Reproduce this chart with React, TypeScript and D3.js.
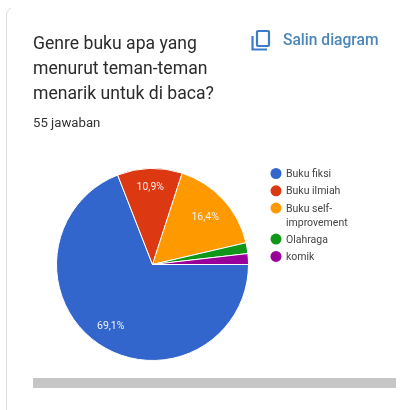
import React from "react";
import * as d3 from "d3";

const categories = ["Buku fiksi", "Buku ilmiah", "Buku self-improvement", "Olahraga", "komik"];
const counts = [38, 6, 9, 1, 1];
const percentLabels = ["69,1%", "10,9%", "16,4%", "", ""];
const colors = ["#3366cc", "#dc3912", "#ff9900", "#109618", "#990099"];
const legendLines = [["Buku fiksi"], ["Buku ilmiah"], ["Buku self-", "improvement"], ["Olahraga"], ["komik"]];
const titleLines = ["Genre buku apa yang", "menurut teman-teman", "menarik untuk di baca?"];

const font = "Roboto, 'Noto Sans', sans-serif";
const labelRadii = [74, 78, 71.5, 0, 0];

export default function App() {
  const cx = 152.5, cy = 264.5, r = 96;
  const pie = d3.pie<number>().sort(null).startAngle(Math.PI / 2).endAngle(Math.PI / 2 + 2 * Math.PI);
  const arc = d3.arc<d3.PieArcDatum<number>>().innerRadius(0).outerRadius(r);
  const arcs = pie(counts);
  let ly = 173.5;
  return (
    <svg width={400} height={410} viewBox="0 0 400 410" style={{ position: "absolute", left: 0, top: 0, background: "#fff", filter: "blur(0.35px)" }} fontFamily={font}>
      <path d="M6.5 410V15Q6.5 10 11 8" stroke="#dcdcdc" strokeWidth={1} fill="none" />
      {titleLines.map((t, i) => (
        <text key={t} x={33} y={49 + i * 25} fontSize={17.6} fill="#2b2b2b">{t}</text>
      ))}
      <text x={33} y={127} fontSize={13.2} fill="#333">55 jawaban</text>
      <g fill="none" stroke="#3d7cc9" strokeWidth={2.2}>
        <rect x={257} y={31} width={12} height={15} rx={1} />
        <path d="M252.5 36V49.5H267" />
      </g>
      <text x={283} y={44.5} fontSize={15.6} fontWeight={500} fill="#4a86b8">Salin diagram</text>
      {arcs.map((a, i) => (
        <path key={categories[i]} d={arc(a) ?? ""} transform={`translate(${cx},${cy})`} fill={colors[i]} stroke="#fff" strokeWidth={1} />
      ))}
      {arcs.map((a, i) => {
        if (!percentLabels[i]) return null;
        const [x, y] = d3.arc<d3.PieArcDatum<number>>().innerRadius(labelRadii[i]).outerRadius(labelRadii[i]).centroid(a);
        return (
          <text key={i} x={cx + x} y={cy + y + 3.5} textAnchor="middle" fontSize={10.5} fill="#f2f2f2">{percentLabels[i]}</text>
        );
      })}
      {legendLines.map((lines, i) => {
        const y = ly;
        ly += lines.length > 1 ? 31 : 17.3;
        return (
          <g key={i}>
            <circle cx={276} cy={y} r={5.5} fill={colors[i]} />
            {lines.map((l, j) => (
              <text key={l} x={286} y={y + 3.5 + j * 14} fontSize={10.5} fill="#444">{l}</text>
            ))}
          </g>
        );
      })}
      <rect x={33} y={378} width={363} height={10} fill="#c6c6c6" />
    </svg>
  );
}
